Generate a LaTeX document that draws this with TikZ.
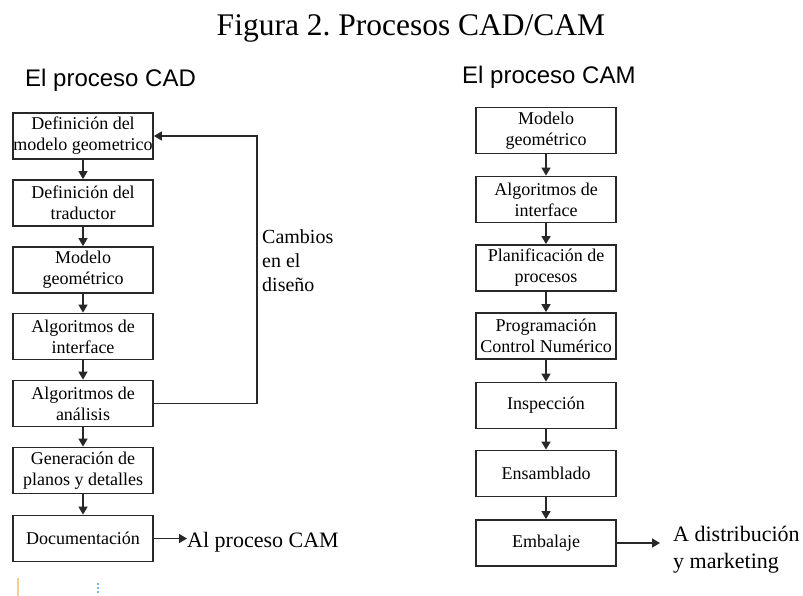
\documentclass[tikz,border=0pt]{standalone}
\usepackage{fontspec}
\setmainfont{Liberation Serif}
\newfontfamily\headfont{Liberation Sans}
\usetikzlibrary{arrows.meta}
\frenchspacing

\definecolor{boxline}{RGB}{40,40,40}
\definecolor{scanorange}{RGB}{250,205,140}
\definecolor{scanblue}{RGB}{120,180,235}

\tikzset{
  stepbox/.style={draw=boxline, line width=1.8pt, minimum width=140pt,
    minimum height=46pt, inner sep=0pt, align=center,
    font=\fontsize{18}{21}\selectfont},
  arr/.style={draw=boxline, line width=1.6pt,
    -{Triangle[length=8pt,width=9pt]}},
  heading/.style={anchor=base west, inner sep=0pt,
    font=\headfont\fontsize{24}{28}\selectfont},
  sidetext/.style={inner sep=0pt, align=left,
    font=\fontsize{22}{27}\selectfont},
}

\begin{document}
\begin{tikzpicture}[x=1pt, y=-1pt]
\useasboundingbox (0,0) rectangle (803,596);

% title
\node[anchor=base, inner sep=0pt, font=\fontsize{31.5}{36}\selectfont]
  (title) at (411,36) {Figura 2. Procesos CAD/CAM};

% ---------- CAD column ----------
\node[heading] (hcad) at (25,87) {El proceso CAD};

\node[stepbox] (c1) at (83,136)   {Definición del\\modelo geometrico};
\node[stepbox] (c2) at (83,203)   {Definición del\\traductor};
\node[stepbox] (c3) at (83,270)   {Modelo\\geométrico};
\node[stepbox] (c4) at (83,336.5) {Algoritmos de\\interface};
\node[stepbox] (c5) at (83,403.5) {Algoritmos de\\análisis};
\node[stepbox] (c6) at (83,470.5) {Generación de\\planos y detalles};
\node[stepbox] (c7) at (83,538.5) {Documentación};

\foreach \a/\b in {c1/c2,c2/c3,c3/c4,c4/c5,c5/c6,c6/c7}
  \draw[arr] (\a.south) -- (\b.north);

% design-change feedback loop
\coordinate (fb) at (257,0);
\draw[arr] (c5.east) -- (c5.east -| fb) |- (c1.east);
\node[inner sep=0pt, align=left, anchor=north west,
      font=\fontsize{20}{24}\selectfont]
  (chg) at (262,229.5) {Cambios\\en el\\diseño};

% output of the CAD process
\node[anchor=base west, inner sep=0pt, font=\fontsize{22}{27}\selectfont]
  (alcam) at (187,547) {Al proceso CAM};
\draw[arr] (c7.east) -- (c7.east -| alcam.west);

% ---------- CAM column ----------
\node[heading] (hcam) at (462,84) {El proceso CAM};

\node[stepbox] (m1) at (546,130.5) {Modelo\\geométrico};
\node[stepbox] (m2) at (546,199.5) {Algoritmos de\\interface};
\node[stepbox] (m3) at (546,268)   {Planificación de\\procesos};
\node[stepbox] (m4) at (546,336)   {Programación\\Control Numérico};
\node[stepbox] (m5) at (546,405.5) {Inspección};
\node[stepbox] (m6) at (546,473.5) {Ensamblado};
\node[stepbox] (m7) at (546,543)   {Embalaje};

\foreach \a/\b in {m1/m2,m2/m3,m3/m4,m4/m5,m5/m6,m6/m7}
  \draw[arr] (\a.south) -- (\b.north);

% output of the CAM process
\coordinate (dend) at (660,543);
\draw[arr] (m7.east) -- (dend);
\node[sidetext, anchor=west] (dist) at (673,549.5)
  {A distribución\\y marketing};

% small marks along the lower edge
\draw[scanorange, line width=1.5pt] (18,578) -- (18,596);
\draw[scanblue, line width=1.2pt, dash pattern=on 2pt off 2pt] (98,583) -- (98,593);
\end{tikzpicture}
\end{document}
